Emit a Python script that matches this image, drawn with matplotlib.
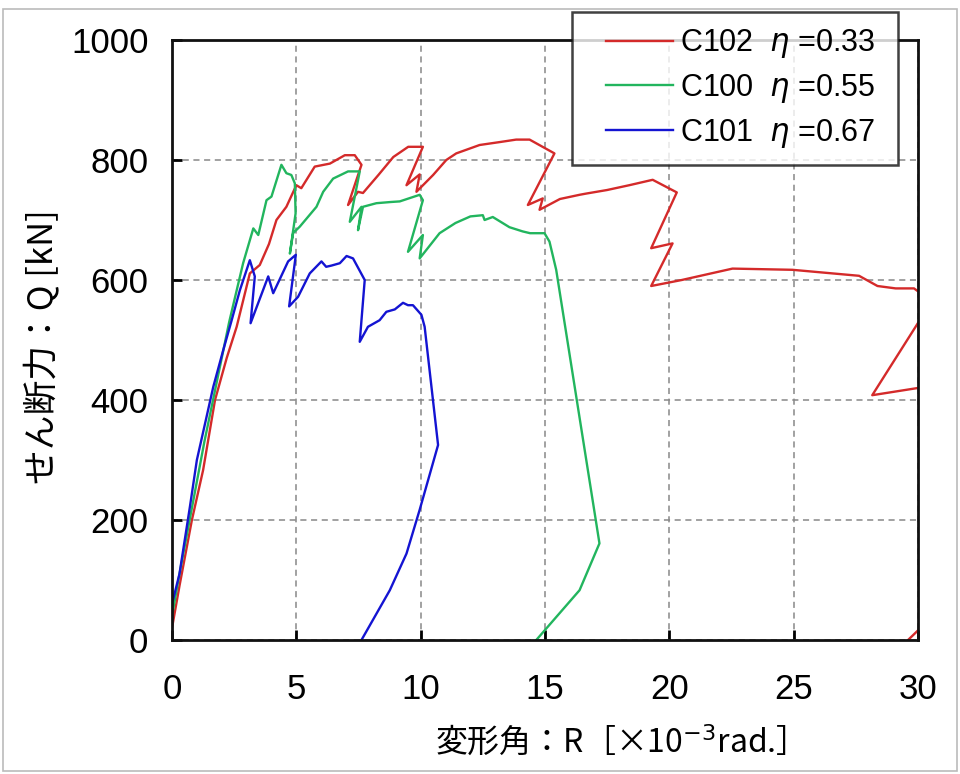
import matplotlib
matplotlib.use("Agg")
import numpy as np
import matplotlib.pyplot as plt
from matplotlib.patches import Rectangle
from matplotlib.legend_handler import HandlerLine2D

plt.rcParams['font.family'] = ['Liberation Sans', 'Noto Sans CJK JP', 'DejaVu Sans']
plt.rcParams['mathtext.fontset'] = 'dejavusans'

# Shear force Q [kN] vs. drift angle R [x10^-3 rad]
c102_R = [0.0, 0.3, 0.8, 1.25, 1.73, 2.2, 2.6, 3.13, 3.53, 3.9, 4.2, 4.6, 5.0, 5.2,
          5.74, 6.35, 6.95, 7.35, 7.62, 7.08, 7.48, 7.68, 8.3, 8.9, 9.5, 10.09, 9.43,
          9.96, 9.83, 10.5, 11.03, 11.43, 12.37, 13.2, 13.84, 14.38, 15.38, 14.31,
          14.91, 14.78, 15.6, 16.39, 16.65, 17.5, 18.39, 19.33, 20.3, 19.27, 20.13,
          19.27, 20.5, 22.54, 24.95, 27.63, 28.37, 29.1, 29.84, 30.3, 30.3, 28.16,
          30.3, 30.6, 29.6]
c102_Q = [20, 90, 200, 283, 400, 470, 522, 611, 625, 660, 700, 722, 758, 753,
          789, 794, 808, 808, 792, 725, 747, 745, 775, 805, 822, 822, 758,
          776, 747, 775, 800, 811, 825, 830, 834, 834, 811, 725,
          736, 717, 735, 742, 744, 750, 758, 767, 746, 653, 661,
          590, 600, 619, 617, 607, 590, 586, 586, 572, 548, 408,
          422, 40, 0]

c100_R = [0.0, 0.3, 0.8, 1.3, 1.8, 2.3, 2.86, 3.27, 3.47, 3.8, 4.0, 4.4, 4.6, 4.8,
          4.94, 4.97, 4.74, 4.87, 5.14, 5.81, 6.08, 6.48, 7.08, 7.55, 7.15, 7.62,
          7.48, 7.68, 8.22, 8.8, 9.16, 9.96, 10.09, 9.49, 10.09, 9.96, 10.76, 11.4,
          12.0, 12.5, 12.57, 12.9, 13.57, 14.1, 14.4, 14.98, 15.18, 15.45, 17.19,
          16.39, 14.65]
c100_Q = [40, 110, 220, 330, 430, 530, 628, 686, 675, 733, 739, 792, 778, 775,
          761, 711, 644, 678, 689, 722, 747, 769, 781, 781, 697, 722,
          683, 722, 728, 730, 731, 742, 733, 647, 675, 636, 678, 695,
          706, 708, 700, 705, 688, 681, 678, 678, 664, 617, 161,
          83, 0]

c101_R = [0.0, 0.3, 0.72, 1.0, 1.39, 1.66, 2.06, 2.4, 2.73, 3.13, 3.33, 3.16, 3.87,
          4.07, 4.67, 4.98, 4.71, 5.07, 5.54, 6.01, 6.2, 6.41, 6.75, 7.02, 7.28,
          7.75, 7.55, 7.88, 8.35, 8.62, 8.96, 9.29, 9.49, 9.69, 10.03, 10.16, 10.7,
          9.96, 9.43, 8.76, 7.62]
c101_Q = [60, 110, 222, 300, 372, 422, 483, 533, 583, 633, 606, 528, 606,
          578, 631, 642, 556, 572, 611, 631, 622, 624, 628, 640, 636,
          600, 497, 522, 533, 547, 551, 562, 558, 558, 542, 522, 325,
          217, 144, 83, 0]

series = [
    (c102_R, c102_Q, '#d42a2a', r'C102  $\eta$ =0.33'),
    (c100_R, c100_Q, '#22b55e', r'C100  $\eta$ =0.55'),
    (c101_R, c101_Q, '#1414d2', r'C101  $\eta$ =0.67'),
]

x_ticks = [0, 5, 10, 15, 20, 25, 30]
y_ticks = [0, 200, 400, 600, 800, 1000]


class IndentedLine(HandlerLine2D):
    """Legend line drawn over the right part of the handle box only."""
    def get_xdata(self, legend, xdescent, ydescent, width, height, fontsize):
        x0 = -xdescent + 0.22 * width
        x1 = -xdescent + width
        return np.array([x0, x1]), np.array([0.5 * (x0 + x1)])


fig = plt.figure(figsize=(9.6, 7.74), dpi=100)
ax = fig.add_axes([172 / 960, 1 - 640 / 774, (918 - 172) / 960, 600 / 774])

lines = []
for R, Q, color, label in series:
    ln, = ax.plot(R, Q, color=color, lw=1.7, label=label)
    lines.append(ln)

ax.set_xlim(0, 30)
ax.set_ylim(0, 1000)
ax.set_xticks(x_ticks)
ax.set_yticks(y_ticks)
ax.grid(True, color='#888888', linestyle=(0, (4, 3)), linewidth=1.1)
ax.set_axisbelow(True)
for sp in ax.spines.values():
    sp.set_linewidth(2.0)
    sp.set_color('#111111')
ax.tick_params(direction='in', length=7, width=2, labelsize=25)
ax.tick_params(axis='y', pad=17)
ax.tick_params(axis='x', pad=24)

ax.set_xlabel('変形角：R［×10$^{-3}$rad.］', fontsize=23,
              family=['Noto Sans CJK JP', 'DejaVu Sans'])
ax.xaxis.set_label_coords((611 - 172) / 746, -(742 - 640) / 600)
ax.xaxis.label.set_verticalalignment('center')
ax.set_ylabel('せん断力：Q [kN]', fontsize=25,
              family=['Noto Sans CJK JP', 'DejaVu Sans'])
ax.yaxis.set_label_coords(-(172 - 42) / 746, (640 - 347) / 600)
ax.yaxis.label.set_verticalalignment('center')

leg = fig.legend(handles=lines, loc='upper left',
                 bbox_to_anchor=(572 / 960, 1 - 152 / 774, 326 / 960, 140 / 774),
                 mode='expand', fontsize=22, frameon=True, fancybox=False,
                 handlelength=2.8, handletextpad=0.25, borderpad=0.5,
                 labelspacing=0.38, borderaxespad=0.0,
                 handler_map={ln: IndentedLine() for ln in lines})
leg.get_frame().set_edgecolor('#111111')
leg.get_frame().set_linewidth(1.8)
leg.set_zorder(10)

# light border round the whole figure
fig.patches.append(Rectangle((0.003, 0.004), 0.994, 0.984, transform=fig.transFigure,
                             fill=False, edgecolor='#bbbbbb', linewidth=1.2))

fig.savefig('out.png', dpi=100)
